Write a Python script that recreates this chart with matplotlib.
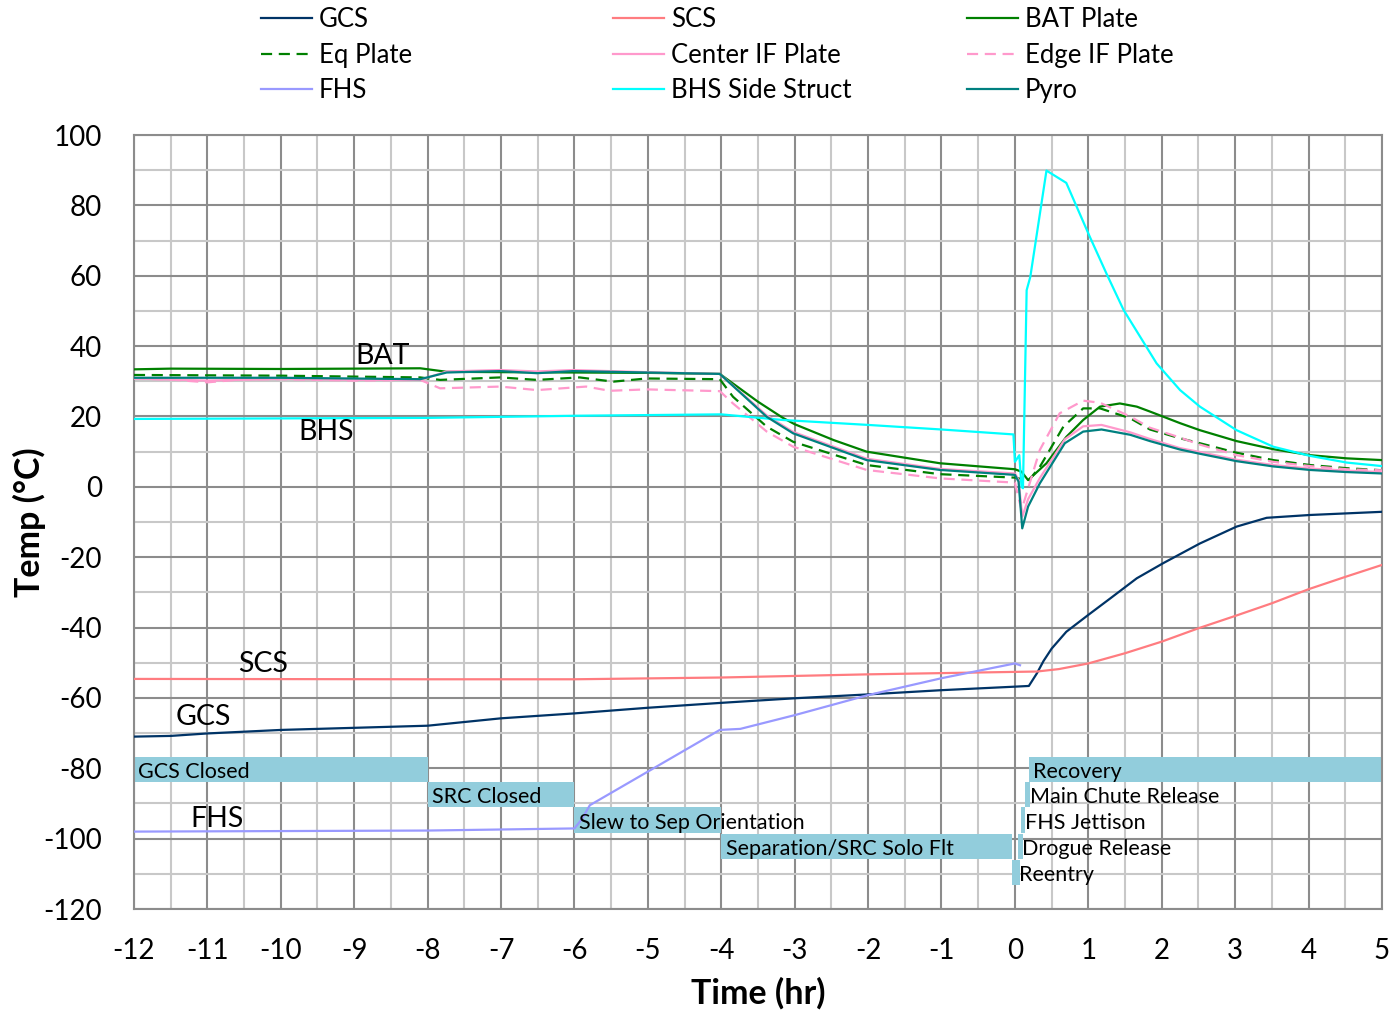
import matplotlib
matplotlib.use("Agg")
import matplotlib.pyplot as plt
from matplotlib.ticker import MultipleLocator

plt.rcParams['font.family'] = ['Lato', 'DejaVu Sans']
plt.rcParams['axes.unicode_minus'] = False

# --- donnees (temps en h, temperatures en degC) ---
gcs_t = [-12, -11.5, -11, -10, -9, -8, -7, -6, -5, -4, -3, -2, -1, 0, 0.19,
         0.30, 0.39, 0.5, 0.7, 1.0, 1.3, 1.66, 2.02, 2.52, 3.02, 3.43, 4.02, 5.0]
gcs_v = [-71.0, -70.8, -70.1, -69.1, -68.5, -67.9, -65.8, -64.4, -62.8, -61.4,
         -60.1, -59.0, -57.8, -56.8, -56.6, -53.0, -49.5, -46.0, -41.2, -36.4,
         -31.7, -26.0, -21.7, -16.1, -11.3, -8.8, -8.0, -7.1]

scs_t = [-12, -8, -6, -4, -2, 0, 0.3, 0.6, 1.0, 1.5, 2.0, 2.5, 3.0, 3.5, 4.0, 4.5, 5.0]
scs_v = [-54.6, -54.7, -54.7, -54.2, -53.3, -52.6, -52.5, -51.8, -50.2, -47.3,
         -44.0, -40.2, -36.7, -33.1, -29.1, -25.6, -22.2]

bat_t = [-12, -11.5, -10, -9, -8.1, -7.74, -7, -6, -5, -4.02, -3.5, -3.16, -3.0,
         -2.47, -2.02, -1.02, 0.0, 0.09, 0.18, 0.43, 0.70, 0.93, 1.16, 1.43, 1.66,
         1.84, 2.25, 2.52, 3.02, 3.52, 4.02, 4.52, 5.0]
bat_v = [33.4, 33.6, 33.5, 33.6, 33.7, 32.7, 32.6, 32.5, 32.4, 32.1, 24.2, 19.6,
         17.8, 13.3, 10.0, 6.7, 5.0, 4.3, 1.9, 6.7, 14.2, 19.0, 22.8, 23.7, 22.8,
         21.4, 18.1, 16.1, 13.0, 10.7, 9.0, 8.1, 7.6]

eq_t = [-12, -10, -8.1, -7.83, -7.01, -6.51, -5.93, -5.47, -5.02, -4.02, -3.84,
        -3.38, -3.02, -2.02, -1.02, 0.02, 0.14, 0.18, 0.34, 0.66, 0.93, 1.16, 1.57,
        1.84, 2.25, 2.52, 3.02, 3.52, 4.02, 4.52, 5.1]
eq_v = [31.8, 31.6, 31.1, 30.4, 31.1, 30.4, 31.1, 29.9, 30.8, 30.6, 25.6, 17.1,
        12.8, 6.2, 3.6, 2.6, 1.9, 1.6, 5.7, 17.1, 22.3, 22.3, 19.5, 16.3, 13.8,
        12.4, 9.7, 7.6, 6.2, 5.3, 4.6]

center_t = [-12, -11, -10, -9, -8.1, -7.74, -7.01, -6.51, -6.02, -5.02, -4.02,
            -3.38, -3.02, -2.02, -1.02, 0.0, 0.05, 0.10, 0.18, 0.34, 0.68, 0.93,
            1.18, 1.57, 1.84, 2.25, 2.52, 3.02, 3.52, 4.02, 4.52, 5.0]
center_v = [30.8, 30.2, 30.7, 30.4, 30.4, 32.8, 33.2, 32.8, 33.2, 32.6, 32.1, 20.3,
            15.6, 8.0, 5.1, 3.8, 2.0, -8.5, -3.5, 2.5, 13.5, 17.2, 17.6, 15.5,
            13.6, 11.0, 9.9, 7.7, 6.2, 5.2, 4.6, 4.2]

edge_t = [-12, -11.5, -11, -10.5, -10, -9, -8.1, -7.83, -7.01, -6.51, -5.84, -5.52,
          -5.02, -4.02, -3.84, -3.38, -3.02, -2.02, -1.02, 0.0, 0.09, 0.34, 0.61,
          0.93, 1.16, 1.57, 1.84, 2.25, 2.52, 3.02, 3.52, 4.02, 4.52, 5.0]
edge_v = [30.8, 30.5, 29.7, 30.6, 30.6, 30.2, 30.4, 28.0, 28.5, 27.5, 28.5, 27.3,
          27.7, 27.2, 23.7, 15.7, 11.4, 4.8, 2.4, 1.2, -6.6, 10.5, 20.9, 24.5,
          23.9, 20.0, 16.8, 14.0, 12.0, 9.0, 7.1, 5.9, 5.0, 4.7]

fhs_t = [-12, -8, -6, -5.9, -5.79, -4.02, -3.74, -3, -2, -1, 0, 0.07]
fhs_v = [-98.0, -97.7, -97.1, -94.5, -90.5, -69.1, -68.8, -64.9, -59.2, -54.4,
         -50.2, -50.7]

bhs_t = [-12, -8, -6, -4, -3.16, -2, -1, -0.02, 0.0, 0.06, 0.09, 0.11, 0.16, 0.21,
         0.43, 0.70, 1.02, 1.25, 1.48, 1.93, 2.25, 2.52, 3.02, 3.52, 4.02, 4.52, 5.0]
bhs_v = [19.3, 19.6, 20.2, 20.6, 19.0, 17.6, 16.3, 14.9, 7.1, 9.0, 0.0, -0.4, 55.9,
         59.7, 89.9, 86.4, 71.1, 60.5, 50.3, 35.1, 27.5, 22.8, 16.1, 11.4, 8.8,
         6.9, 5.9]

pyro_t = [-12, -10, -8.1, -7.74, -7.01, -6.51, -6.02, -5.02, -4.02, -3.38, -3.02,
          -2.02, -1.02, 0.0, 0.05, 0.10, 0.18, 0.34, 0.68, 0.93, 1.18, 1.57, 1.84,
          2.25, 2.52, 3.02, 3.52, 4.02, 4.52, 5.0]
pyro_v = [31.0, 31.0, 30.6, 32.5, 32.9, 32.3, 32.9, 32.5, 32.1, 19.9, 15.2, 7.6,
          4.8, 3.4, 1.5, -11.8, -5.6, 1.0, 12.4, 15.7, 16.3, 14.8, 13.0, 10.6,
          9.4, 7.3, 5.8, 4.8, 4.2, 3.8]

# phases de la mission (barres horizontales)
phase_noms = ['GCS Closed', 'SRC Closed', 'Slew to Sep Orientation',
              'Separation/SRC Solo Flt', 'Reentry', 'Drogue Release',
              'FHS Jettison', 'Main Chute Release', 'Recovery']
phase_debut = [-12, -8, -6, -4, -0.04, 0.04, 0.08, 0.14, 0.19]
phase_fin = [-8, -6, -4, -0.04, 0.07, 0.11, 0.14, 0.20, 5.0]
phase_niveau = [-80.3, -87.5, -94.7, -102.2, -109.6, -102.2, -94.7, -87.5, -80.3]

# --- figure ---
fig = plt.figure(figsize=(13.91, 10.10), dpi=100)
ax = fig.add_axes([0.0963, 0.1, 0.8972, 0.7663])

series = [
    ('GCS', gcs_t, gcs_v, '#003366', '-'),
    ('SCS', scs_t, scs_v, '#FF7C80', '-'),
    ('BAT Plate', bat_t, bat_v, '#008000', '-'),
    ('Eq Plate', eq_t, eq_v, '#008000', '--'),
    ('Center IF Plate', center_t, center_v, '#FF99CC', '-'),
    ('Edge IF Plate', edge_t, edge_v, '#FF99CC', '--'),
    ('FHS', fhs_t, fhs_v, '#9999FF', '-'),
    ('BHS Side Struct', bhs_t, bhs_v, '#00FFFF', '-'),
    ('Pyro', pyro_t, pyro_v, '#008080', '-'),
]

# barres des phases sous les courbes
largeurs = [f - d for d, f in zip(phase_debut, phase_fin)]
ax.barh(phase_niveau, largeurs, left=phase_debut, height=7.2,
        color='#92CDDC', zorder=2)
for nom, d, y in zip(phase_noms, phase_debut, phase_niveau):
    dx = 0.1 if nom == 'Reentry' else 0.06
    ax.text(d + dx, y - 0.8, nom, ha='left', va='center', fontsize=15.5, zorder=5)

handles = []
for nom, t, v, c, ls in series:
    ln, = ax.plot(t, v, color=c, lw=1.6, ls=ls, zorder=3, label=nom)
    if ls == '--':
        ln.set_dashes((5, 3))
    handles.append(ln)

# etiquettes directes
for txt, x, y in [('BAT', -8.62, 37.2), ('BHS', -9.38, 15.6), ('SCS', -10.24, -50.4),
                  ('GCS', -11.06, -65.4), ('FHS', -10.87, -94.4)]:
    ax.text(x, y, txt, ha='center', va='center', fontsize=20.5, zorder=5)

ax.set_xlim(-12, 5)
ax.set_ylim(-120, 100)
ax.xaxis.set_major_locator(MultipleLocator(1))
ax.xaxis.set_minor_locator(MultipleLocator(0.5))
ax.yaxis.set_major_locator(MultipleLocator(20))
ax.yaxis.set_minor_locator(MultipleLocator(10))
ax.grid(which='major', color='#8c8c8c', lw=1.5, zorder=0)
ax.grid(which='minor', color='#c8c8c8', lw=1.5, zorder=0)
ax.set_axisbelow(True)
ax.tick_params(which='both', length=0, labelsize=20)
ax.tick_params(axis='y', pad=23)
ax.tick_params(axis='x', pad=21)
for s in ax.spines.values():
    s.set_color('#8c8c8c')
    s.set_linewidth(1.5)

ax.set_xlabel('Time (hr)', fontsize=24.5, fontweight='bold', labelpad=9)
ax.set_ylabel('Temp (°C)', fontsize=24.5, fontweight='bold', labelpad=-2)

# legende en trois colonnes separees
colonnes_x = [0.1839, 0.4369, 0.6914]
for i, x in enumerate(colonnes_x):
    h = handles[i::3]
    fig.legend(handles=h, labels=[l.get_label() for l in h], loc='upper left',
               bbox_to_anchor=(x, 0.998), frameon=False, fontsize=18.5,
               handlelength=2.0, handletextpad=0.25, labelspacing=0.41,
               borderpad=0.0, borderaxespad=0.2)

fig.savefig('out.png', dpi=100)
